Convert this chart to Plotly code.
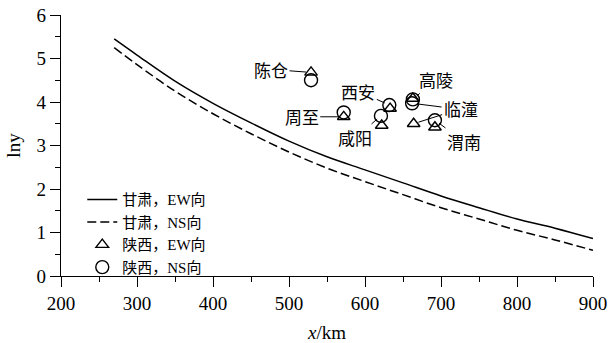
import plotly.graph_objects as go

# Gansu attenuation curves (x in km, ln y)
curve_x = [270, 300, 350, 400, 450, 500, 550, 600, 650, 700, 750, 800, 850, 900]
ew_curve = [5.45, 5.08, 4.48, 3.97, 3.52, 3.10, 2.74, 2.44, 2.14, 1.84, 1.57, 1.31, 1.10, 0.86]
ns_curve = [5.25, 4.86, 4.25, 3.73, 3.27, 2.85, 2.48, 2.17, 1.87, 1.57, 1.31, 1.05, 0.83, 0.59]

# Shaanxi stations
sites = ["陈仓", "周至", "西安", "咸阳", "高陵", "临潼", "渭南"]
ew_x = [529, 572, 633, 622, 663, 664, 692]
ew_y = [4.68, 3.66, 3.85, 3.46, 4.08, 3.50, 3.42]
ns_x = [529, 572, 632, 621, 663, 662, 692]
ns_y = [4.50, 3.76, 3.93, 3.68, 4.06, 3.97, 3.58]

legend_names = ["甘肃，EW向", "甘肃，NS向", "陕西，EW向", "陕西，NS向"]

SERIF = "Liberation Serif, Noto Sans CJK SC, serif"
CJK = "Noto Sans CJK SC, sans-serif"

fig = go.Figure()
fig.add_trace(go.Scatter(x=curve_x, y=ew_curve, mode="lines", name=legend_names[0],
                         line=dict(color="black", width=1.5, shape="spline")))
fig.add_trace(go.Scatter(x=curve_x, y=ns_curve, mode="lines", name=legend_names[1],
                         line=dict(color="black", width=1.5, dash="9px,4px", shape="spline")))
fig.add_trace(go.Scatter(x=ew_x, y=ew_y, mode="markers", name=legend_names[2],
                         marker=dict(symbol="triangle-up-open", size=11, color="black",
                                     line=dict(width=1.4, color="black"))))
fig.add_trace(go.Scatter(x=ns_x, y=ns_y, mode="markers", name=legend_names[3],
                         marker=dict(symbol="circle-open", size=13, color="black",
                                     line=dict(width=1.4, color="black"))))

# label placement: (which series, dx, dy) in pixels
label_specs = {
    "陈仓": [("ew", -40, -3)],
    "周至": [("ew", -42, 0)],
    "西安": [("ns", -31, -14)],
    "咸阳": [("ns", -26, 22)],
    "高陵": [("ns", 23, -20)],
    "临潼": [("ew", 47, -15), ("ns", 48, 6)],
    "渭南": [("ns", 29, 21)],
}
for i, s in enumerate(sites):
    for k, (ser, dx, dy) in enumerate(label_specs[s]):
        px, py = (ew_x[i], ew_y[i]) if ser == "ew" else (ns_x[i], ns_y[i])
        fig.add_annotation(x=px, y=py, ax=dx, ay=dy, text=s, showarrow=True,
                           arrowhead=0, arrowwidth=1, arrowcolor="black", standoff=5,
                           font=dict(family=CJK, size=17,
                                     color="black" if k == 0 else "rgba(0,0,0,0)"))

fig.update_layout(
    width=616, height=343,
    margin=dict(l=61, r=23, t=15, b=67),
    paper_bgcolor="white", plot_bgcolor="white",
    font=dict(family=SERIF, color="black"),
    showlegend=True,
    legend=dict(x=0.04, y=0.355, xanchor="left", yanchor="top",
                bgcolor="rgba(0,0,0,0)", font=dict(family=SERIF, size=15),
                tracegroupgap=0, itemwidth=30),
)
fig.update_xaxes(range=[200, 900], dtick=100, tick0=200, showgrid=False, zeroline=False,
                 showline=True, linecolor="black", linewidth=1.3, automargin=False,
                 ticks="outside", ticklen=10, tickwidth=1.2, tickcolor="black",
                 tickfont=dict(family=SERIF, size=19),
                 minor=dict(dtick=50, ticks="outside", ticklen=5, tickwidth=1, tickcolor="black"),
                 title=dict(text="<i>x</i>/km", font=dict(family=SERIF, size=19), standoff=16))
fig.update_yaxes(range=[0, 6], dtick=1, showgrid=False, zeroline=False,
                 showline=True, linecolor="black", linewidth=1.3, automargin=False,
                 ticks="outside", ticklen=10, tickwidth=1.2, tickcolor="black",
                 tickfont=dict(family=SERIF, size=19),
                 minor=dict(dtick=0.5, ticks="outside", ticklen=5, tickwidth=1, tickcolor="black"),
                 title=dict(text="lny", font=dict(family=SERIF, size=19), standoff=10))

fig.write_html("out.html", config={"displayModeBar": False},
               post_script="document.body.style.margin='0';")
